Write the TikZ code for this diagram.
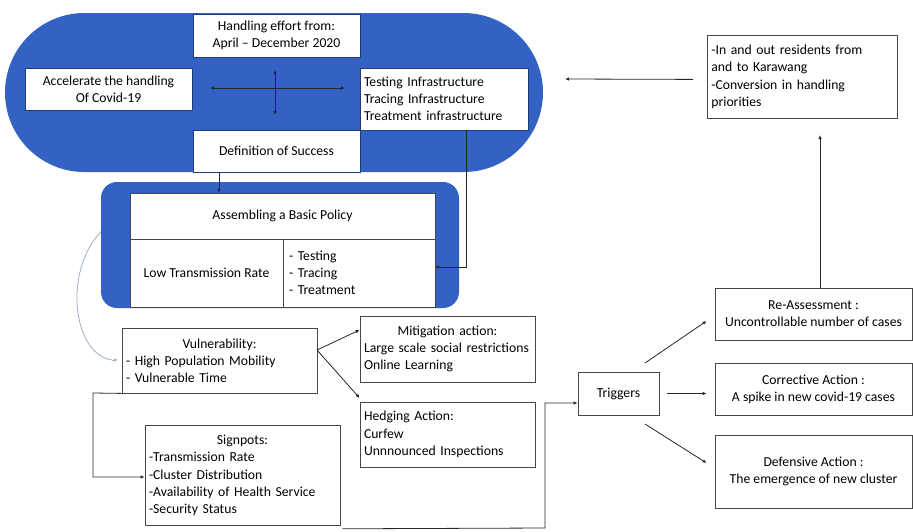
\documentclass[tikz,border=0pt]{standalone}
\usepackage{fontspec}
\setmainfont{Carlito}
\usetikzlibrary{arrows.meta,calc}
\definecolor{bigblue}{RGB}{52,98,196}
\definecolor{curvecol}{RGB}{160,175,200}
\definecolor{edge}{RGB}{70,70,70}
\newcommand\ctitle[1]{\makebox[\linewidth][c]{#1}}
\tikzset{
  txt/.style={font=\fontsize{13.7}{17.2}\selectfont},
  wbox/.style={txt,draw=edge,line width=0.8pt,fill=white,rectangle,inner sep=4pt,align=center},
  lbox/.style={wbox,align=left},
  inbox/.style={txt,draw=bigblue!60!black,line width=0.4pt,fill=white,rectangle,inner sep=4pt,align=center},
  arr/.style={draw=black!85,line width=0.8pt,-{Latex[length=4pt,width=3.5pt]}},
  ln/.style={draw=black!85,line width=0.8pt},
}
\begin{document}
\begin{tikzpicture}[x=1pt,y=-1pt]
\useasboundingbox (0,0) rectangle (913,531);
% curve behind the policy block
\coordinate (cstart) at (135,214);
\coordinate (cmid) at (112,360);
\coordinate (cend) at (118,360);
\draw[curvecol,line width=0.8pt] (cstart) .. controls (62,226) and (62,352) .. (cmid);
% big stadium
\fill[bigblue,rounded corners=79.5pt] (5,13) rectangle (543,172);
\node[inbox,minimum width=167pt,minimum height=43pt] (hand) at (276.5,35.5) {Handling effort from:\\April -- December 2020};
\node[inbox,minimum width=167pt,minimum height=42pt] (accel) at (108.5,89) {Accelerate the handling\\Of Covid-19};
\node[inbox,minimum width=168pt,minimum height=62pt,text width=160pt,align=left,inner sep=3pt] (test) at (444,99) {Testing Infrastructure\\Tracing Infrastructure\\Treatment infrastructure};
\node[inbox,minimum width=167pt,minimum height=42pt] (defn) at (276.5,151) {Definition of Success};
% cross arrows
\coordinate (hl) at (210,88); \coordinate (hr) at (345,88);
\coordinate (vt) at (275,70); \coordinate (vb) at (275,115);
\draw[ln,{Latex[length=4pt,width=3.5pt]}-{Latex[length=4pt,width=3.5pt]}] (hl) -- (hr);
\draw[ln,{Latex[length=4pt,width=3.5pt]}-{Latex[length=4pt,width=3.5pt]}] (vt) -- (vb);
% policy block
\fill[bigblue,rounded corners=16pt] (101,182) rectangle (459,308);
\node[inbox,draw=edge,minimum width=305pt,minimum height=46pt] (policy) at (282.5,216) {Assembling a Basic Policy};
\node[inbox,draw=edge,minimum width=153pt,minimum height=68pt] (ltr) at (206.5,273) {Low Transmission Rate};
\node[inbox,draw=edge,minimum width=152pt,minimum height=68pt,text width=140pt,align=left] (ttt) at (359,273) {- Testing\\- Tracing\\- Treatment};
\draw[arr,draw=bigblue!40!black] ([xshift=-57.5pt]defn.south) -- ([xshift=-57.5pt]defn.south |- policy.north);
\draw[arr] ([xshift=22pt]test.south) |- ([yshift=6pt]ttt.east);
% curve arrow end
\draw[curvecol,line width=0.8pt,-{Latex[length=4pt,width=3.5pt]}] (cmid) -- (cend);
% vulnerability etc.
\node[lbox,minimum width=195pt,minimum height=65pt,text width=187pt] (vuln) at (219.5,360.5) {\ctitle{Vulnerability:}\\- High Population Mobility\\- Vulnerable Time};
\node[lbox,minimum width=175pt,minimum height=66pt,text width=167pt] (mit) at (447.5,349) {\ctitle{Mitigation action:}\\Large scale social restrictions\\Online Learning};
\node[lbox,minimum width=175pt,minimum height=65pt,text width=167pt] (hedge) at (447.5,434.5) {Hedging Action:\\Curfew\\Unnnounced Inspections};
\node[lbox,minimum width=195pt,minimum height=100pt,text width=187pt,anchor=north] (sign) at (242.5,425) {\ctitle{Signpots:}\\-Transmission Rate\\-Cluster Distribution\\-Availability of Health Service\\-Security Status};
\coordinate (vo) at (317,350);
\draw[arr] (vo) -- ([yshift=19pt]mit.west);
\draw[arr] (vo) -- ([yshift=36.5pt]hedge.west);
\coordinate (v1) at (93,393);
\coordinate (v2) at (93,477);
\draw[arr] (vuln.south west) -- (v1) -- (v2) -- (v2 -| sign.west);
% triggers
\node[wbox,minimum width=81pt,minimum height=43pt] (trig) at (618.5,393.5) {Triggers};
\coordinate (s1) at (545,528);
\coordinate (s2) at (545,403);
\draw[arr] ([xshift=2pt,yshift=-3pt]sign.south east) -- (s1) -- (s2) -- (s2 -| trig.west);
\node[wbox,minimum width=197pt,minimum height=52pt] (reas) at (813.5,314) {Re-Assessment :\\Uncontrollable number of cases};
\node[wbox,minimum width=197pt,minimum height=52pt] (corr) at (813.5,389) {Corrective Action :\\A spike in new covid-19 cases};
\node[wbox,minimum width=197pt,minimum height=73pt] (def) at (813.5,471.5) {Defensive Action :\\The emergence of new cluster};
\coordinate (t1) at (645,363);
\coordinate (t2) at (667,393.5);
\coordinate (t3) at (645,424);
\draw[arr] (t1) -- ([yshift=-7pt,xshift=-8pt]reas.west);
\draw[arr] (t2) -- ([xshift=-8pt]t2 -| corr.west);
\draw[arr] (t3) -- ([yshift=8.5pt,xshift=-8pt]def.west);
% residents
\node[lbox,minimum width=190pt,minimum height=83pt,text width=182pt,anchor=north west] (res) at (707,35) {-In and out residents from\\and to Karawang\\-Conversion in handling\\priorities};
\coordinate (rtop) at (820,135);
\draw[arr] (rtop |- reas.north) -- (rtop);
\coordinate (rl) at (565,79);
\draw[arr] ([xshift=-14pt,yshift=-2.5pt]res.west) -- (rl);
\end{tikzpicture}
\end{document}
